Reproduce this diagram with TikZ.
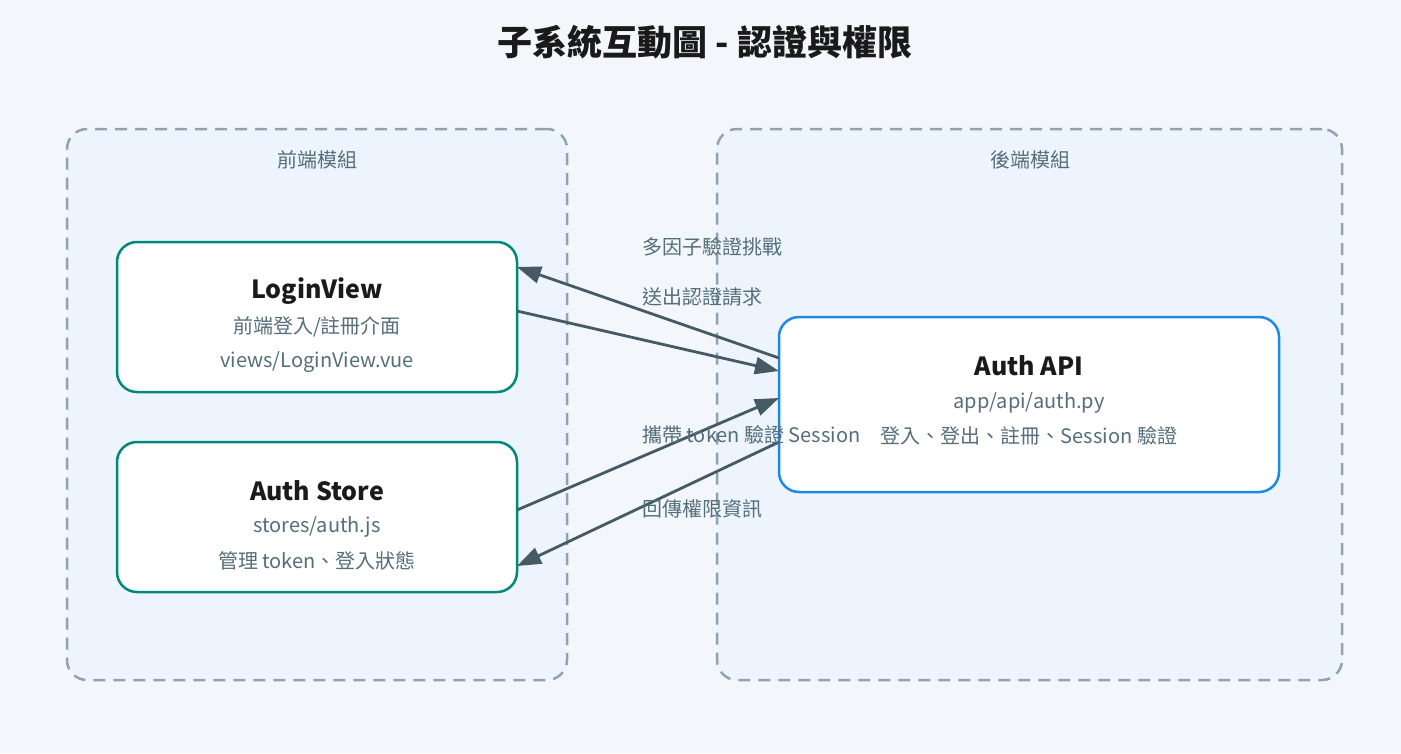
\documentclass[tikz,border=0pt]{standalone}
\usepackage{fontspec}
\setmainfont{Noto Sans CJK TC}
\usepackage{xcolor}
\usepackage{tikz}
\usetikzlibrary{arrows.meta}
\usetikzlibrary{positioning}

\definecolor{bgcol}{HTML}{F3F6FB}
\definecolor{groupfill}{HTML}{EDF4FD}
\definecolor{groupline}{HTML}{90A4AE}
\definecolor{frontline}{HTML}{00897B}
\definecolor{backline}{HTML}{1E88E5}
\definecolor{arrowcol}{HTML}{455A64}
\definecolor{subtext}{HTML}{546E7A}
\definecolor{titletext}{HTML}{1A1A1A}

\begin{document}
\begin{tikzpicture}[x=1pt, y=-1pt,
        group/.style={draw=groupline, fill=groupfill, line width=2.5pt,
            dash pattern=on 12pt off 8pt, rounded corners=20pt,
            inner sep=0pt, outer sep=0pt},
        module/.style={fill=white, line width=2.5pt, rounded corners=20pt,
            minimum width=400pt, inner sep=0pt, outer sep=0pt},
        modname/.style={text=titletext, font=\fontsize{25}{30}\selectfont\bfseries, inner sep=0pt},
        modinfo/.style={text=subtext, font=\fontsize{20}{24}\selectfont, inner sep=0pt},
        flow/.style={draw=arrowcol, line width=2.8pt,
            -{Triangle[length=24pt, width=17pt]}},
        flowlabel/.style={text=subtext, font=\fontsize{20}{24}\selectfont,
            anchor=west, inner sep=0pt}]
        \useasboundingbox[fill=bgcol] (0, 0) rectangle (1401, 753);

        \node[text=titletext, font=\fontsize{35}{42}\selectfont\bfseries] (title)
            at (705, 42) {子系統互動圖 - 認證與權限};

        \node[group, minimum width=500pt, minimum height=551pt] (front) at (317, 404.5) {};
        \node[group, minimum width=625pt, minimum height=551pt] (back) at (1029.5, 404.5) {};
        \node[modinfo] (frontT) at (317, 160) {前端模組};
        \node[modinfo] (backT) at (1030, 160) {後端模組};

        \node[module, draw=frontline, minimum height=150pt] (login) at (317, 317) {};
        \node[modname] (loginN) at (317, 291) {LoginView};
        \node[modinfo] (loginA) at (317, 327) {前端登入/註冊介面};
        \node[modinfo] (loginB) at (317, 362.5) {views/LoginView.vue};

        \node[module, draw=frontline, minimum height=150pt] (store) at (317, 517) {};
        \node[modname] (storeN) at (317, 490.5) {Auth Store};
        \node[modinfo] (storeA) at (317, 526.5) {stores/auth.js};
        \node[modinfo] (storeB) at (317, 561) {管理 token、登入狀態};

        \node[module, draw=backline, minimum width=500pt, minimum height=175pt] (api) at (1029, 404.5) {};
        \node[modname] (apiN) at (1029, 365.5) {Auth API};
        \node[modinfo] (apiA) at (1029, 402.5) {app/api/auth.py};
        \node[modinfo] (apiB) at (1029, 436) {登入、登出、註冊、Session 驗證};

        \draw[flow] ([yshift=46.5pt]api.west) -- ([yshift=50pt]login.east);
        \draw[flow] ([yshift=6pt]login.east) -- ([yshift=33.5pt]api.west);
        \draw[flow] ([yshift=7pt]store.east) -- ([yshift=6.5pt]api.west);
        \draw[flow] ([yshift=-37.5pt]api.west) -- ([yshift=-49pt]store.east);

        \node[flowlabel] (mfa) at (642, 247) {多因子驗證挑戰};
        \node[flowlabel] (req) at (642, 297) {送出認證請求};
        \node[flowlabel] (tok) at (642, 435) {攜帶 token 驗證 Session};
        \node[flowlabel] (perm) at (642, 509) {回傳權限資訊};
    \end{tikzpicture}
\end{document}
